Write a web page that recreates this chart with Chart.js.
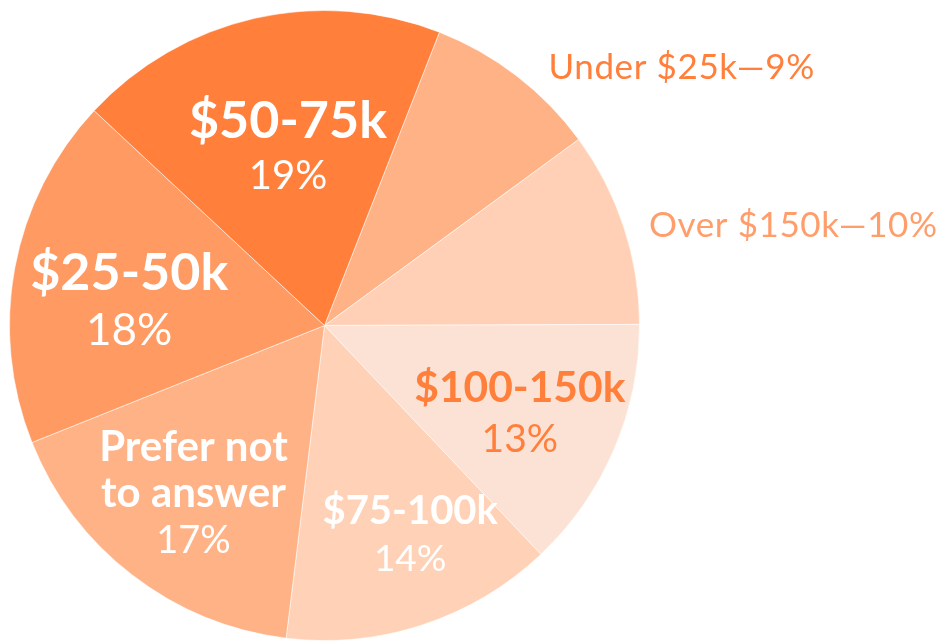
<!DOCTYPE html>
<html>
<head>
<meta charset="utf-8">
<script src="https://cdn.jsdelivr.net/npm/chart.js@4/dist/chart.umd.min.js"></script>
<style>
  html, body { margin: 0; padding: 0; background: #ffffff; }
  #wrap { width: 943px; height: 642px; position: relative; }
</style>
</head>
<body>
<div id="wrap"><canvas id="c" width="943" height="642"></canvas></div>
<script>
// ---- data ----
const categories = ['Under $25k', 'Over $150k', '$100-150k', '$75-100k', 'Prefer not to answer', '$25-50k', '$50-75k'];
const shares = [9, 10, 13, 14, 17, 18, 19];
const percentLabels = shares.map(v => v + '%');
const sliceColors = ['#FFB286', '#FFD0B5', '#FBE2D5', '#FFD1B6', '#FFB286', '#FF9A62', '#FF7F3B'];

// ---- label layout (style/position, not data) ----
// dx, dy: anchor offset as fraction of outer radius; lines relative to anchor baseline
const labelStyle = [
  { mode: 'outside', dx: 0.711, dy: -0.781, size: 35, spacing: 0.6, color: '#FF7F3B' },
  { mode: 'outside', dx: 1.030, dy: -0.282, size: 35, spacing: 0.6, color: '#FF9D6B' },
  { mode: 'inside', dx: 0.620, dy: 0.244, nameSize: 42.5, pctSize: 39, gap: 50, color: '#FF7F3B' },
  { mode: 'inside', dx: 0.272, dy: 0.631, nameSize: 40, pctSize: 37, gap: 47, color: '#FFFFFF' },
  { mode: 'inside', dx: -0.416, dy: 0.431, nameSize: 42, pctSize: 38, gap: 46, color: '#FFFFFF', split: ['Prefer not', 'to answer'] },
  { mode: 'inside', dx: -0.620, dy: -0.113, nameSize: 52, pctSize: 44, gap: 55, color: '#FFFFFF' },
  { mode: 'inside', dx: -0.116, dy: -0.594, nameSize: 52, pctSize: 40, gap: 51, color: '#FFFFFF' }
];

const FONT = 'Lato, "Open Sans", sans-serif';

const sliceLabels = {
  id: 'sliceLabels',
  afterDatasetsDraw(chart) {
    const ctx = chart.ctx;
    const meta = chart.getDatasetMeta(0);
    meta.data.forEach((arc, i) => {
      const st = labelStyle[i];
      const R = arc.outerRadius;
      const ax = arc.x + st.dx * R;
      const ay = arc.y + st.dy * R;
      ctx.save();
      ctx.textBaseline = 'alphabetic';
      ctx.fillStyle = st.color;
      if (st.mode === 'outside') {
        ctx.textAlign = 'left';
        ctx.font = `400 ${st.size}px ${FONT}`;
        if ('letterSpacing' in ctx) ctx.letterSpacing = st.spacing + 'px';
        ctx.fillText(categories[i] + '\u2014' + percentLabels[i], ax, ay);
      } else {
        ctx.textAlign = 'center';
        const names = st.split || [categories[i]];
        ctx.font = `700 ${st.nameSize}px ${FONT}`;
        let y = ay;
        names.forEach((n) => {
          ctx.fillText(n, ax, y);
          y += st.gap;
        });
        ctx.font = `400 ${st.pctSize}px ${FONT}`;
        ctx.fillText(percentLabels[i], ax, y);
      }
      ctx.restore();
    });
  }
};

function draw() {
  new Chart(document.getElementById('c'), {
    type: 'pie',
    data: {
      labels: categories,
      datasets: [{
        data: shares,
        backgroundColor: sliceColors,
        borderColor: 'rgba(255,255,255,0.55)',
        borderWidth: 1
      }]
    },
    options: {
      responsive: false,
      animation: false,
      rotation: 21.4,
      layout: { padding: { left: 9, top: 10, right: 303, bottom: 1 } },
      plugins: {
        legend: { display: false },
        tooltip: { enabled: false }
      }
    },
    plugins: [sliceLabels]
  });
}

if (document.fonts && document.fonts.load) {
  Promise.all([
    document.fonts.load('700 40px Lato'),
    document.fonts.load('400 40px Lato')
  ]).then(draw, draw);
} else {
  draw();
}
</script>
</body>
</html>
